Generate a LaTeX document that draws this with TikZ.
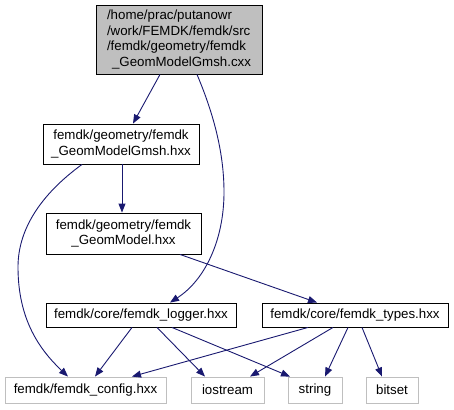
\documentclass[tikz,border=0pt]{standalone}
\usepackage{fontspec}
\setmainfont{Liberation Sans}
\usetikzlibrary{arrows.meta}
\definecolor{edgeblue}{HTML}{191970}
\definecolor{graybox}{HTML}{BFBFBF}
\tikzset{
  box/.style={draw=black, line width=0.9pt, inner sep=0pt, align=center,
    font=\fontsize{13.3}{15.5}\selectfont},
  curbox/.style={box, fill=graybox},
  sysbox/.style={box, draw=graybox},
  dep/.style={draw=edgeblue, line width=0.9pt, -{Triangle[length=9pt,width=7pt]}}
}
\begin{document}
\begin{tikzpicture}[x=1pt,y=-1pt]
\useasboundingbox (0,0) rectangle (454,409);
\node[curbox, minimum width=166, minimum height=69, align=left] (top) at (179,39.5)
  {/home/prac/putanowr\\/work/FEMDK/femdk/src\\/femdk/geometry/femdk\\\hspace{5pt}\_GeomModelGmsh.cxx};
\node[box, minimum width=156, minimum height=40] (gmsh) at (121,144)
  {femdk/geometry/femdk\\\_GeomModelGmsh.hxx};
\node[box, minimum width=155, minimum height=41] (geom) at (123.5,233.5)
  {femdk/geometry/femdk\\\_GeomModel.hxx};
\node[box, minimum width=190, minimum height=24] (logger) at (141,315)
  {femdk/core/femdk\_logger.hxx};
\node[box, minimum width=186, minimum height=24] (types) at (355,315)
  {femdk/core/femdk\_types.hxx};
\node[sysbox, minimum width=161, minimum height=26] (config) at (85.5,390)
  {femdk/femdk\_config.hxx};
\node[sysbox, minimum width=73, minimum height=26] (iostream) at (227.5,390)
  {iostream};
\node[sysbox, minimum width=54, minimum height=26] (string) at (315,390)
  {string};
\node[sysbox, minimum width=52, minimum height=26] (bitset) at (392,390)
  {bitset};

\draw[dep] ([xshift=-19]top.south) -- ([xshift=12]gmsh.north);
\draw[dep] ([xshift=18]top.south) .. controls (212,110) and (224,150) .. (224,192)
  .. controls (224,240) and (205,280) .. ([xshift=29]logger.north);
\draw[dep] ([xshift=1]gmsh.south) -- ([xshift=-1.5]geom.north);
\draw[dep] ([xshift=-39]gmsh.south) .. controls (40,195) and (18,230) .. (18,267)
  .. controls (18,320) and (40,350) .. ([xshift=-17.5]config.north);
\draw[dep] ([xshift=56.5]geom.south) -- ([xshift=-38]types.north);
\draw[dep] ([xshift=-9]logger.south) -- ([xshift=9.5]config.north);
\draw[dep] ([xshift=16]logger.south) -- ([xshift=-22.5]iostream.north);
\draw[dep] ([xshift=31]logger.south) -- ([xshift=-25]string.north);
\draw[dep] ([xshift=-47]types.south) -- ([xshift=46.5]config.north);
\draw[dep] ([xshift=-22]types.south) -- ([xshift=22.5]iostream.north);
\draw[dep] ([xshift=-7]types.south) -- ([xshift=10]string.north);
\draw[dep] ([xshift=7]types.south) -- ([xshift=-10]bitset.north);
\end{tikzpicture}
\end{document}
